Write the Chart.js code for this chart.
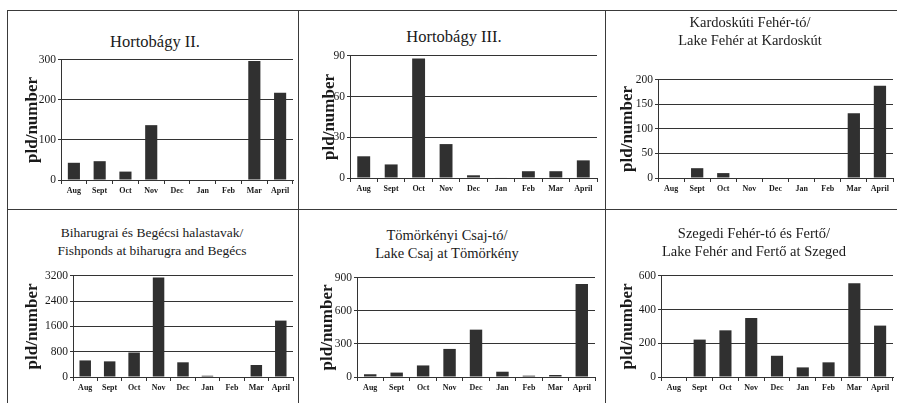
<!DOCTYPE html>
<html>
<head>
<meta charset="utf-8">
<script src="https://cdn.jsdelivr.net/npm/chart.js@4.4.0/dist/chart.umd.min.js"></script>
<style>
body { margin:0; background:#fff; width:897px; height:403px; overflow:hidden; position:relative; font-family:"Liberation Serif", serif; color:#1a1a1a; }
.vonal { position:absolute; background:#3a3a3a; }
.cim { position:absolute; width:320px; text-align:center; white-space:nowrap; }
canvas { position:absolute; }
</style>
</head>
<body>
<div class="vonal" style="left:7px;top:10px;width:890px;height:1px"></div>
<div class="vonal" style="left:7px;top:209px;width:890px;height:1px"></div>
<div class="vonal" style="left:7px;top:10px;width:1px;height:393px"></div>
<div class="vonal" style="left:298px;top:10px;width:1px;height:393px"></div>
<div class="vonal" style="left:605px;top:10px;width:1px;height:393px"></div>

<script>
// =====================
// ADATOK
// =====================
const honapok = ["Aug","Sept","Oct","Nov","Dec","Jan","Feb","Mar","April"];

const hortobagy2 = [43, 47, 21, 137, 0, 0, 0, 297, 218];
const hortobagy3 = [16, 10, 88, 25, 2, 0.4, 5, 5, 13];
const kardoskut  = [0, 20, 10, 0, 0, 0, 0, 132, 188];
const biharugra  = [525, 495, 775, 3150, 465, 40, 0, 380, 1785];
const tomorkeny  = [25, 40, 105, 255, 430, 48, 12, 18, 845];
const szeged     = [0, 222, 277, 350, 126, 57, 87, 557, 305];

const tengelyMax   = [300, 90, 200, 3200, 900, 600];
const tengelyLepes = [100, 30, 50, 800, 300, 200];

const cimek = [
    ["Hortobágy II."],
    ["Hortobágy III."],
    ["Kardoskúti Fehér-tó/", "Lake Fehér at Kardoskút"],
    ["Biharugrai és Begécsi halastavak/", "Fishponds at biharugra and Begécs"],
    ["Tömörkényi Csaj-tó/", "Lake Csaj at Tömörkény"],
    ["Szegedi Fehér-tó és Fertő/", "Lake Fehér and Fertő at Szeged"]
];
const sorozatok = [hortobagy2, hortobagy3, kardoskut, biharugra, tomorkeny, szeged];
const yCim = "pld/number";

// =====================
// ELRENDEZÉS (pixelek)
// =====================
// plot: [bal, fent, jobb, lent], cl: vászon bal széle, tx/ty: cím közepe, yt: tengelycím közepe
const panelek = [
    { plot:[61,59,293,180],  cl:9,   tx:155, ty:42,  fs:16.5, yt:33 },
    { plot:[350,55,597,178], cl:300, tx:454, ty:37,  fs:16.5, yt:330 },
    { plot:[658,79,893,178], cl:607, tx:750, ty:22,  fs:14.5, yt:628 },
    { plot:[73,275,293,377], cl:9,   tx:152, ty:233, fs:13.5, yt:33 },
    { plot:[357,277,595,377],cl:300, tx:447, ty:235, fs:14.5, yt:328 },
    { plot:[661,275,893,377],cl:607, tx:754, ty:233, fs:14.5, yt:628 }
];

const FONT = "Liberation Serif";
const VONAL = "#333333";

function rajzol(i) {
    let p = panelek[i];
    let [bal, fent, jobb, lent] = p.plot;

    // cím
    let c = document.createElement("div");
    c.className = "cim";
    c.style.left = (p.tx - 160) + "px";
    c.style.top = (p.ty - 9) + "px";
    c.style.fontSize = p.fs + "px";
    c.style.lineHeight = "18px";
    c.innerHTML = cimek[i].join("<br>");
    document.body.appendChild(c);

    // vászon
    let felso = fent - 8;
    let cv = document.createElement("canvas");
    let w = jobb + 3 - p.cl;
    let h = lent + 20 - felso;
    cv.style.left = p.cl + "px";
    cv.style.top = felso + "px";
    cv.style.width = w + "px";
    cv.style.height = h + "px";
    cv.width = w;
    cv.height = h;
    document.body.appendChild(cv);

    let yPad = p.yt - p.cl - 17 * 1.2 / 2;

    new Chart(cv.getContext("2d"), {
        type: "bar",
        data: {
            labels: honapok,
            datasets: [{
                data: sorozatok[i],
                backgroundColor: "#303030",
                borderWidth: 0,
                categoryPercentage: 1,
                barPercentage: 0.47
            }]
        },
        options: {
            responsive: false,
            animation: false,
            devicePixelRatio: 1,
            layout: { padding: { top: 8, right: 3, left: 0, bottom: 0 } },
            plugins: { legend: { display: false }, tooltip: { enabled: false } },
            scales: {
                x: {
                    offset: true,
                    afterFit: s => { s.height = 20; },
                    grid: {
                        offset: true,
                        color: ctx => ctx.index === honapok.length ? VONAL : "transparent",
                        tickColor: VONAL,
                        tickLength: 4,
                        lineWidth: 1
                    },
                    border: { display: true, color: VONAL, width: 1 },
                    ticks: {
                        autoSkip: false,
                        maxRotation: 0,
                        padding: 2,
                        color: "#1a1a1a",
                        font: { family: FONT, size: 8, weight: "bold" }
                    }
                },
                y: {
                    min: 0,
                    max: tengelyMax[i],
                    afterFit: s => { s.width = bal - p.cl; },
                    grid: { color: VONAL, tickColor: VONAL, tickLength: 3, lineWidth: 1 },
                    border: { display: true, color: VONAL, width: 1 },
                    ticks: {
                        stepSize: tengelyLepes[i],
                        padding: 2,
                        color: "#1a1a1a",
                        font: { family: FONT, size: 11.5 },
                        callback: v => String(v)
                    },
                    title: {
                        display: true,
                        text: yCim,
                        color: "#1a1a1a",
                        font: { family: FONT, size: 17, weight: "bold", lineHeight: 1.2 },
                        padding: { top: yPad, bottom: 0 }
                    }
                }
            }
        }
    });
}

for (let i = 0; i < panelek.length; i++) rajzol(i);
</script>
</body>
</html>
